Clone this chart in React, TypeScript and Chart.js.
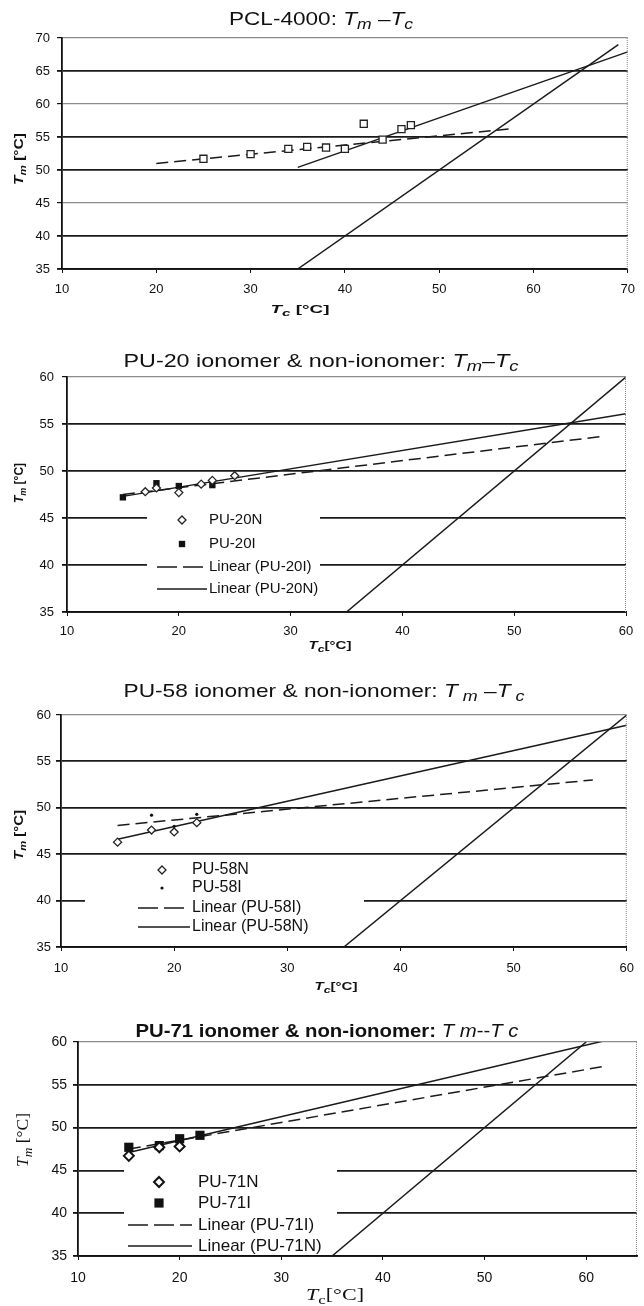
import React, { useEffect, useRef } from 'react';
import { Chart, registerables } from 'chart.js';

Chart.register(...registerables);

const SANS = '"Liberation Sans", Arial, sans-serif';
const SERIF = '"Liberation Serif", "Times New Roman", serif';

// ---------------- DATA ----------------
// Panel 1: PCL-4000
const pclTc = [25, 30, 34, 36, 38, 40, 42, 44, 46, 47];
const pclTm = [51.7, 52.4, 53.2, 53.5, 53.4, 53.2, 57.0, 54.6, 56.2, 56.8];
const pclDashTc = [20, 58];
const pclDashTm = [51.0, 56.3];
const pclSolidTc = [35, 70];
const pclSolidTm = [50.4, 67.9];
const pclDiagTc = [35, 69];
const pclDiagTm = [35, 69];

// Panel 2: PU-20
const pu20nTc = [17, 18, 20, 22, 23, 25];
const pu20nTm = [47.8, 48.2, 47.7, 48.6, 49.0, 49.5];
const pu20iTc = [15, 18, 20, 23];
const pu20iTm = [47.2, 48.7, 48.4, 48.5];
const pu20iFitTc = [15, 58];
const pu20iFitTm = [47.5, 53.7];
const pu20nFitTc = [15, 60];
const pu20nFitTm = [47.3, 56.1];
const pu20DiagTc = [35, 60];
const pu20DiagTm = [35, 60];

// Panel 3: PU-58
const pu58nTc = [15, 18, 20, 22];
const pu58nTm = [46.3, 47.6, 47.4, 48.4];
const pu58iTc = [18, 20, 22];
const pu58iTm = [49.2, 48.0, 49.3];
const pu58iFitTc = [15, 57];
const pu58iFitTm = [48.1, 53.0];
const pu58nFitTc = [15, 60];
const pu58nFitTm = [46.6, 58.9];
const pu58DiagTc = [35, 60];
const pu58DiagTm = [35, 60];

// Panel 4: PU-71
const pu71nTc = [15, 18, 20];
const pu71nTm = [46.7, 47.7, 47.8];
const pu71iTc = [15, 18, 20, 22];
const pu71iTm = [47.7, 47.9, 48.7, 49.1];
const pu71iFitTc = [15, 62];
const pu71iFitTm = [47.5, 57.2];
const pu71nFitTc = [15, 62];
const pu71nFitTm = [47.1, 60.2];
const pu71DiagTc = [35, 60];
const pu71DiagTm = [35, 60];

// ---------------- TYPES ----------------
type Run = { t: string; i?: boolean; sub?: boolean; b?: boolean };
type TextSpec = {
  runs: Run[];
  cx: number;
  cy: number;
  size: number;
  bold?: boolean;
  family?: string;
  width?: number;
  rotate?: boolean;
};
type Marker = { shape: 'rect' | 'rectRot' | 'circle'; r: number; fill: string; stroke: string; lw: number };
type Series = { label: string; tc: number[]; tm: number[]; marker?: Marker; line?: 'solid' | 'dash' };
type LegendRow = { label: string; marker?: Marker; line?: 'solid' | 'dash'; y: number };
type LegendCfg = {
  x1: number; y1: number; x2: number; y2: number;
  size: number; markerX: number; textX: number; lineX1: number; lineX2: number;
  rows: LegendRow[];
};
type PanelCfg = {
  top: number; bottom: number; L: number; R: number; PT: number; PB: number;
  xMin: number; xMax: number; yMin: number; yMax: number;
  tickSize: number; tickFamily: string; yTickPad: number; xTickPad: number;
  grayLines: number[];
  series: Series[];
  texts: TextSpec[];
  legend?: LegendCfg;
};

// ---------------- STYLES ----------------
const LINE_COLOR = '#1a1a1a';
const openSquare: Marker = { shape: 'rect', r: 5, fill: '#fff', stroke: '#222', lw: 1.3 };
const diamondSmall: Marker = { shape: 'rectRot', r: 4, fill: '#fff', stroke: '#222', lw: 1.3 };
const squareSmall: Marker = { shape: 'rect', r: 4.5, fill: '#111', stroke: '#111', lw: 0 };
const dotTiny: Marker = { shape: 'circle', r: 1.6, fill: '#111', stroke: '#111', lw: 0 };
const diamondBig: Marker = { shape: 'rectRot', r: 5, fill: '#fff', stroke: '#111', lw: 2 };
const squareBig: Marker = { shape: 'rect', r: 6.5, fill: '#111', stroke: '#111', lw: 0 };

function tmRuns(sep: string, spaced = false): Run[] {
  return [
    { t: 'T', i: true },
    { t: spaced ? ' m' : 'm', i: true, sub: true },
    { t: sep },
    { t: 'T', i: true },
    { t: spaced ? ' c' : 'c', i: true, sub: true },
  ];
}

const panels: PanelCfg[] = [
  {
    top: 0, bottom: 325, L: 62, R: 632, PT: 38, PB: 269,
    xMin: 10, xMax: 70, yMin: 35, yMax: 70,
    tickSize: 13, tickFamily: SANS, yTickPad: 7, xTickPad: 9,
    grayLines: [70, 60, 45],
    series: [
      { label: 'PCL-4000', tc: pclTc, tm: pclTm, marker: openSquare },
      { label: 'Linear (dash)', tc: pclDashTc, tm: pclDashTm, line: 'dash' },
      { label: 'Linear (solid)', tc: pclSolidTc, tm: pclSolidTm, line: 'solid' },
      { label: 'Tm = Tc', tc: pclDiagTc, tm: pclDiagTm, line: 'solid' },
    ],
    texts: [
      { runs: [{ t: 'PCL-4000: ' }, ...tmRuns(' –')], cx: 321, cy: 20, size: 18, width: 184 },
      { runs: [{ t: 'T', i: true }, { t: 'c', i: true, sub: true }, { t: ' [°C]' }], cx: 300, cy: 310, size: 11, bold: true, width: 59 },
      { runs: [{ t: 'T', i: true }, { t: 'm', i: true, sub: true }, { t: ' [°C]' }], cx: 20, cy: 159, size: 12, bold: true, width: 52, rotate: true },
    ],
  },
  {
    top: 325, bottom: 660, L: 67, R: 626, PT: 377, PB: 612,
    xMin: 10, xMax: 60, yMin: 35, yMax: 60,
    tickSize: 13, tickFamily: SANS, yTickPad: 8, xTickPad: 8,
    grayLines: [60],
    series: [
      { label: 'PU-20N', tc: pu20nTc, tm: pu20nTm, marker: diamondSmall },
      { label: 'PU-20I', tc: pu20iTc, tm: pu20iTm, marker: squareSmall },
      { label: 'Linear (PU-20I)', tc: pu20iFitTc, tm: pu20iFitTm, line: 'dash' },
      { label: 'Linear (PU-20N)', tc: pu20nFitTc, tm: pu20nFitTm, line: 'solid' },
      { label: 'Tm = Tc', tc: pu20DiagTc, tm: pu20DiagTm, line: 'solid' },
    ],
    texts: [
      { runs: [{ t: 'PU-20 ionomer & non-ionomer: ' }, ...tmRuns('–')], cx: 321, cy: 362, size: 19, width: 395 },
      { runs: [{ t: 'T', i: true }, { t: 'c', i: true, sub: true }, { t: '[°C]' }], cx: 330, cy: 646, size: 11, bold: true, width: 43 },
      { runs: [{ t: 'T', i: true }, { t: 'm', i: true, sub: true }, { t: ' [°C]' }], cx: 20, cy: 483, size: 12, bold: true, width: 40, rotate: true },
    ],
    legend: {
      x1: 147, y1: 508, x2: 320, y2: 600, size: 15, markerX: 182, textX: 209, lineX1: 157, lineX2: 207,
      rows: [
        { label: 'PU-20N', marker: diamondSmall, y: 520 },
        { label: 'PU-20I', marker: squareSmall, y: 544 },
        { label: 'Linear (PU-20I)', line: 'dash', y: 567 },
        { label: 'Linear (PU-20N)', line: 'solid', y: 589 },
      ],
    },
  },
  {
    top: 660, bottom: 1000, L: 61, R: 634, PT: 715, PB: 947,
    xMin: 10, xMax: 60, yMin: 35, yMax: 60,
    tickSize: 13, tickFamily: SANS, yTickPad: 5, xTickPad: 10,
    grayLines: [60],
    series: [
      { label: 'PU-58N', tc: pu58nTc, tm: pu58nTm, marker: diamondSmall },
      { label: 'PU-58I', tc: pu58iTc, tm: pu58iTm, marker: dotTiny },
      { label: 'Linear (PU-58I)', tc: pu58iFitTc, tm: pu58iFitTm, line: 'dash' },
      { label: 'Linear (PU-58N)', tc: pu58nFitTc, tm: pu58nFitTm, line: 'solid' },
      { label: 'Tm = Tc', tc: pu58DiagTc, tm: pu58DiagTm, line: 'solid' },
    ],
    texts: [
      { runs: [{ t: 'PU-58 ionomer & non-ionomer: ' }, ...tmRuns(' –', true)], cx: 324, cy: 692, size: 19, width: 401 },
      { runs: [{ t: 'T', i: true }, { t: 'c', i: true, sub: true }, { t: '[°C]' }], cx: 336, cy: 987, size: 11, bold: true, width: 43 },
      { runs: [{ t: 'T', i: true }, { t: 'm', i: true, sub: true }, { t: ' [°C]' }], cx: 20, cy: 835, size: 12, bold: true, width: 50, rotate: true },
    ],
    legend: {
      x1: 85, y1: 859, x2: 364, y2: 940, size: 16, markerX: 162, textX: 192, lineX1: 138, lineX2: 190,
      rows: [
        { label: 'PU-58N', marker: diamondSmall, y: 870 },
        { label: 'PU-58I', marker: dotTiny, y: 888 },
        { label: 'Linear (PU-58I)', line: 'dash', y: 908 },
        { label: 'Linear (PU-58N)', line: 'solid', y: 927 },
      ],
    },
  },
  {
    top: 1000, bottom: 1306, L: 78, R: 640, PT: 1042, PB: 1256,
    xMin: 10, xMax: 65, yMin: 35, yMax: 60,
    tickSize: 14, tickFamily: SANS, yTickPad: 6, xTickPad: 10,
    grayLines: [60],
    series: [
      { label: 'PU-71N', tc: pu71nTc, tm: pu71nTm, marker: diamondBig },
      { label: 'PU-71I', tc: pu71iTc, tm: pu71iTm, marker: squareBig },
      { label: 'Linear (PU-71I)', tc: pu71iFitTc, tm: pu71iFitTm, line: 'dash' },
      { label: 'Linear (PU-71N)', tc: pu71nFitTc, tm: pu71nFitTm, line: 'solid' },
      { label: 'Tm = Tc', tc: pu71DiagTc, tm: pu71DiagTm, line: 'solid' },
    ],
    texts: [
      {
        runs: [
          { t: 'PU-71 ionomer & non-ionomer: ', b: true },
          { t: 'T', i: true, b: false }, { t: ' m', i: true, b: false }, { t: '--', b: false },
          { t: 'T', i: true, b: false }, { t: ' c', i: true, b: false },
        ],
        cx: 327, cy: 1032, size: 18, bold: true, width: 383,
      },
      { runs: [{ t: 'T', i: true }, { t: 'c', sub: true }, { t: '[°C]' }], cx: 335, cy: 1296, size: 17, family: SERIF, width: 58 },
      { runs: [{ t: 'T', i: true }, { t: 'm', i: true, sub: true }, { t: ' [°C]' }], cx: 24, cy: 1140, size: 17, family: SERIF, width: 54, rotate: true },
    ],
    legend: {
      x1: 124, y1: 1167, x2: 337, y2: 1255, size: 17, markerX: 159, textX: 198, lineX1: 128, lineX2: 192,
      rows: [
        { label: 'PU-71N', marker: diamondBig, y: 1182 },
        { label: 'PU-71I', marker: squareBig, y: 1203 },
        { label: 'Linear (PU-71I)', line: 'dash', y: 1225 },
        { label: 'Linear (PU-71N)', line: 'solid', y: 1246 },
      ],
    },
  },
];

// ---------------- DRAW HELPERS ----------------
function drawRich(ctx: CanvasRenderingContext2D, spec: TextSpec, offY: number) {
  const family = spec.family || SANS;
  const fontFor = (r: Run) => {
    const bold = r.b !== undefined ? r.b : spec.bold;
    const size = r.sub ? Math.round(spec.size * 0.78) : spec.size;
    return `${r.i ? 'italic ' : ''}${bold ? 'bold ' : ''}${size}px ${family}`;
  };
  ctx.save();
  let w = 0;
  const widths: number[] = [];
  for (const r of spec.runs) {
    ctx.font = fontFor(r);
    const m = ctx.measureText(r.t).width;
    widths.push(m);
    w += m;
  }
  const sx = spec.width ? spec.width / w : 1;
  ctx.translate(spec.cx, spec.cy - offY);
  if (spec.rotate) ctx.rotate(-Math.PI / 2);
  ctx.scale(sx, 1);
  ctx.textBaseline = 'middle';
  ctx.textAlign = 'left';
  ctx.fillStyle = '#111';
  let x = -w / 2;
  spec.runs.forEach((r, k) => {
    ctx.font = fontFor(r);
    ctx.fillText(r.t, x, r.sub ? spec.size * 0.28 : 0);
    x += widths[k];
  });
  ctx.restore();
}

function drawMarker(ctx: CanvasRenderingContext2D, m: Marker, x: number, y: number) {
  ctx.save();
  ctx.beginPath();
  if (m.shape === 'rect') {
    const h = m.r * Math.SQRT1_2;
    ctx.rect(x - h, y - h, 2 * h, 2 * h);
  } else if (m.shape === 'rectRot') {
    ctx.moveTo(x, y - m.r);
    ctx.lineTo(x + m.r, y);
    ctx.lineTo(x, y + m.r);
    ctx.lineTo(x - m.r, y);
    ctx.closePath();
  } else {
    ctx.arc(x, y, m.r, 0, Math.PI * 2);
  }
  ctx.fillStyle = m.fill;
  ctx.fill();
  if (m.lw > 0) {
    ctx.lineWidth = m.lw;
    ctx.strokeStyle = m.stroke;
    ctx.stroke();
  }
  ctx.restore();
}

const DASH = [12, 6];

function buildConfig(p: PanelCfg): any {
  const datasets = p.series.map((s) => {
    const data = s.tc.map((x, i) => ({ x, y: s.tm[i] }));
    if (s.marker) {
      return {
        label: s.label,
        data,
        showLine: false,
        pointStyle: s.marker.shape,
        pointRadius: s.marker.r,
        pointBackgroundColor: s.marker.fill,
        pointBorderColor: s.marker.stroke,
        pointBorderWidth: s.marker.lw,
      };
    }
    return {
      label: s.label,
      data,
      showLine: true,
      pointRadius: 0,
      borderColor: LINE_COLOR,
      borderWidth: 1.5,
      borderDash: s.line === 'dash' ? DASH : [],
      fill: false,
    };
  });

  const decor = {
    id: 'decor',
    beforeDatasetsDraw(chart: any) {
      const ctx: CanvasRenderingContext2D = chart.ctx;
      const lg = p.legend;
      if (!lg) return;
      const off = p.top;
      ctx.save();
      ctx.fillStyle = '#fff';
      ctx.fillRect(lg.x1, lg.y1 - off, lg.x2 - lg.x1, lg.y2 - lg.y1);
      for (const row of lg.rows) {
        const y = row.y - off;
        if (row.marker) {
          drawMarker(ctx, row.marker, lg.markerX, y);
        } else {
          ctx.save();
          ctx.beginPath();
          ctx.strokeStyle = LINE_COLOR;
          ctx.lineWidth = 1.5;
          ctx.setLineDash(row.line === 'dash' ? [20, 6] : []);
          ctx.moveTo(lg.lineX1, y);
          ctx.lineTo(lg.lineX2, y);
          ctx.stroke();
          ctx.restore();
        }
        ctx.font = `${lg.size}px ${SANS}`;
        ctx.fillStyle = '#111';
        ctx.textBaseline = 'middle';
        ctx.textAlign = 'left';
        ctx.fillText(row.label, lg.textX, y);
      }
      ctx.restore();
    },
    afterDraw(chart: any) {
      const ctx: CanvasRenderingContext2D = chart.ctx;
      const a = chart.chartArea;
      ctx.save();
      ctx.strokeStyle = '#8a8a8a';
      ctx.lineWidth = 1;
      ctx.setLineDash([1, 1]);
      ctx.beginPath();
      ctx.moveTo(a.right - 0.5, a.top);
      ctx.lineTo(a.right - 0.5, a.bottom);
      ctx.stroke();
      ctx.restore();
      for (const t of p.texts) drawRich(ctx, t, p.top);
    },
  };

  return {
    type: 'scatter',
    data: { datasets },
    options: {
      responsive: false,
      animation: false,
      events: [],
      layout: { padding: { left: 0, right: 644 - p.R, top: p.PT - p.top, bottom: 0 } },
      plugins: { legend: { display: false }, tooltip: { enabled: false }, title: { display: false } },
      scales: {
        x: {
          type: 'linear',
          min: p.xMin,
          max: p.xMax,
          ticks: {
            stepSize: 10,
            color: '#111',
            padding: p.xTickPad,
            maxRotation: 0,
            font: { family: p.tickFamily, size: p.tickSize },
          },
          afterBuildTicks: (s: any) => {
            s.ticks = s.ticks.filter((t: any) => t.value % 10 === 0);
          },
          grid: { display: true, drawOnChartArea: false, drawTicks: true, tickLength: 4, tickColor: '#111', color: '#111' },
          border: { display: true, color: '#111', width: 1.8 },
          afterFit: (s: any) => {
            s.height = p.bottom - p.PB;
          },
        },
        y: {
          type: 'linear',
          min: p.yMin,
          max: p.yMax,
          ticks: {
            stepSize: 5,
            color: '#111',
            padding: p.yTickPad,
            font: { family: p.tickFamily, size: p.tickSize },
          },
          grid: {
            display: true,
            drawTicks: true,
            tickLength: 5,
            tickColor: '#111',
            color: (c: any) => (p.grayLines.includes(c.tick?.value) ? '#8c8c8c' : '#1a1a1a'),
            lineWidth: (c: any) => (p.grayLines.includes(c.tick?.value) ? 1.2 : 1.8),
          },
          border: { display: true, color: '#111', width: 1.8 },
          afterFit: (s: any) => {
            s.width = p.L;
          },
        },
      },
    },
    plugins: [decor],
  };
}

function Panel({ p }: { p: PanelCfg }) {
  const ref = useRef<HTMLCanvasElement>(null);
  const h = p.bottom - p.top;
  useEffect(() => {
    const chart = new Chart(ref.current as HTMLCanvasElement, buildConfig(p));
    return () => chart.destroy();
  }, []);
  return (
    <div style={{ position: 'absolute', left: 0, top: p.top, width: 644, height: h }}>
      <canvas ref={ref} width={644} height={h} style={{ width: 644, height: h, display: 'block' }} />
    </div>
  );
}

export default function App() {
  return (
    <div style={{ position: 'absolute', left: 0, top: 0, width: 644, height: 1306, background: '#fff' }}>
      {panels.map((p, i) => (
        <Panel key={i} p={p} />
      ))}
    </div>
  );
}
